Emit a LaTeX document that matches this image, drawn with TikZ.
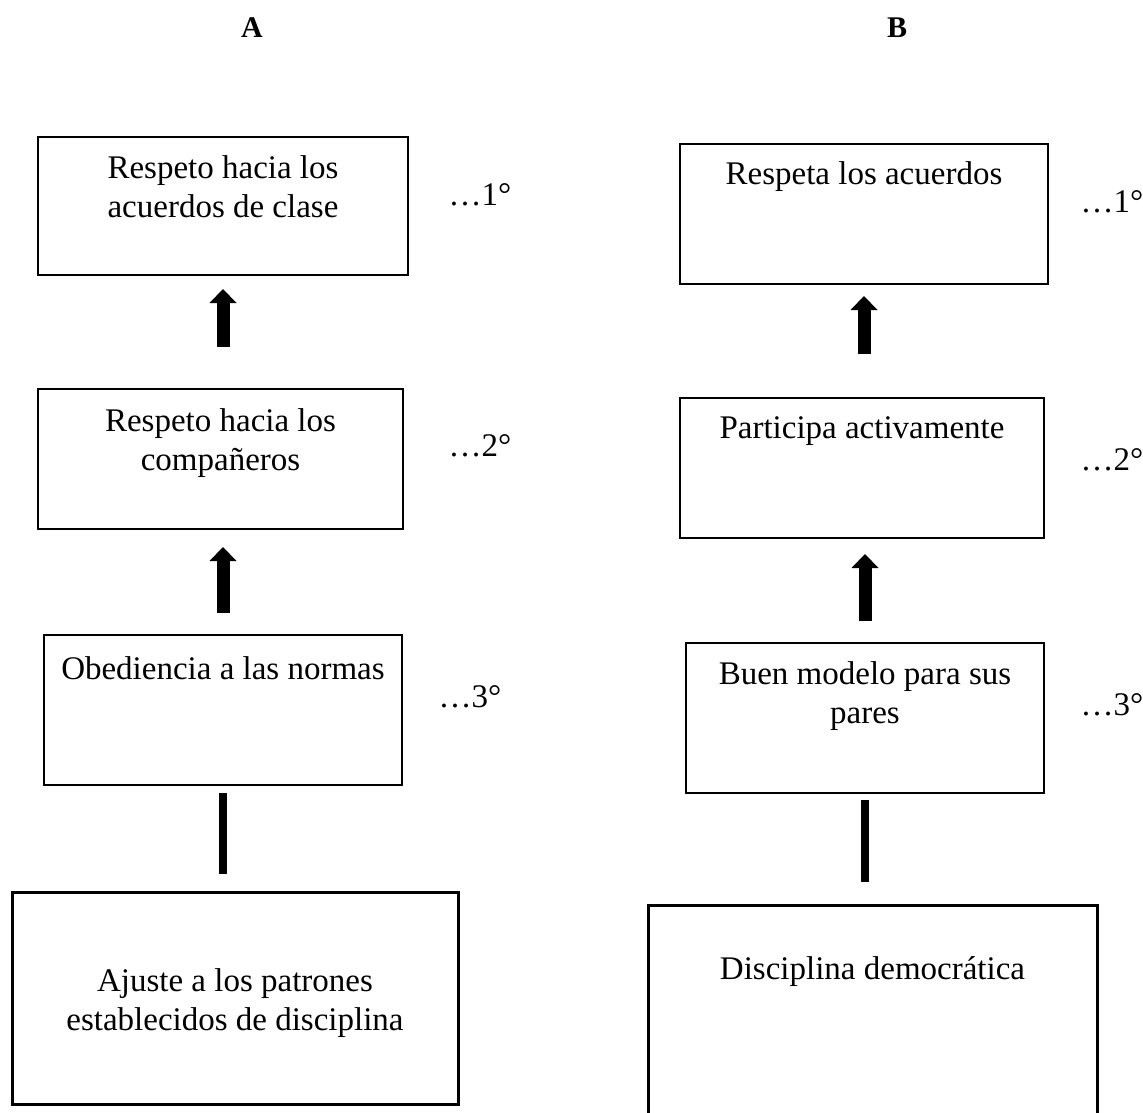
\documentclass[tikz,border=0pt]{standalone}
\usepackage{fontspec}
\setmainfont{Liberation Serif}
\usetikzlibrary{arrows.meta}

\newcommand{\textocaja}[4]{\parbox[c][#2][t]{#1}{\centering\rule{0pt}{#3}#4}}

\tikzset{every picture/.style={line width=0.75pt}}
\tikzset{
  caja/.style={draw, line width=1.5pt, inner sep=0pt, anchor=north,
    font=\fontsize{24.75}{29.25}\selectfont},
  cajabase/.style={caja, line width=2.25pt},
  flecha/.style={line width=9.75pt, -{Triangle[width=20.25pt,length=10.5pt,line width=0pt]}},
  enlace/.style={line width=6pt},
  grado/.style={anchor=base west, inner sep=0pt, font=\fontsize{24.75}{29.25}\selectfont},
  titulo/.style={anchor=base, inner sep=0pt, font=\fontsize{22.5}{27}\selectfont\bfseries},
}

\begin{document}
\begin{tikzpicture}[x=0.75pt,y=0.75pt,yscale=-1,xscale=1]
    \useasboundingbox (0,0) rectangle (1143,1113);

    % Titles
    \node[titulo] (ta) at (252,38) {A};
    \node[titulo] (tb) at (897,38) {B};

    % Column A
    \node[caja] (a1) at (223,136) {\textocaja{277.5pt}{103.5pt}{30.75pt}{Respeto hacia los\\acuerdos de clase}};
    \node[caja] (a2) at (220.5,388) {\textocaja{273.75pt}{105pt}{31.5pt}{Respeto hacia los\\compañeros}};
    \node[caja] (a3) at (223,634) {\textocaja{268.5pt}{112.5pt}{33pt}{Obediencia a las normas}};
    \node[cajabase] (a4) at (235,891) {\textocaja{334.5pt}{159pt}{74.25pt}{Ajuste a los patrones\\establecidos de disciplina}};

    % Column B
    \node[caja] (b1) at (864,143) {\textocaja{276pt}{105pt}{30pt}{Respeta los acuerdos}};
    \node[caja] (b2) at (862,397) {\textocaja{273pt}{105pt}{30pt}{Participa activamente}};
    \node[caja] (b3) at (865,642) {\textocaja{268.5pt}{112.5pt}{30.75pt}{Buen modelo para sus\\pares}};
    \node[cajabase] (b4) at (872.5,904) {\textocaja{336.75pt}{180pt}{55.5pt}{Disciplina democrática}};

    % Order labels
    \node[grado] (a1n) at (448,205) {…1°};
    \node[grado] (a2n) at (448,456) {…2°};
    \node[grado] (a3n) at (438,707) {…3°};
    \node[grado] (b1n) at (1080,212) {…1°};
    \node[grado] (b2n) at (1080,470) {…2°};
    \node[grado] (b3n) at (1080,715) {…3°};

    % Connectors A
    \draw[flecha, shorten <=30.75pt, shorten >=9.75pt] (a2.north -| a1.south) -- (a1.south);
    \draw[flecha, shorten <=15.75pt, shorten >=12.75pt] (a3.north) -- (a3.north |- a2.south);
    \draw[enlace, shorten <=12.75pt, shorten >=5.25pt] (a4.north -| a3.south) -- (a3.south);

    % Connectors B
    \draw[flecha, shorten <=32.25pt, shorten >=8.25pt] (b2.north -| b1.south) -- (b1.south);
    \draw[flecha, shorten <=15.75pt, shorten >=11.25pt] (b3.north) -- (b3.north |- b2.south);
    \draw[enlace, shorten <=16.5pt, shorten >=4.5pt] (b4.north -| b3.south) -- (b3.south);
\end{tikzpicture}
\end{document}
